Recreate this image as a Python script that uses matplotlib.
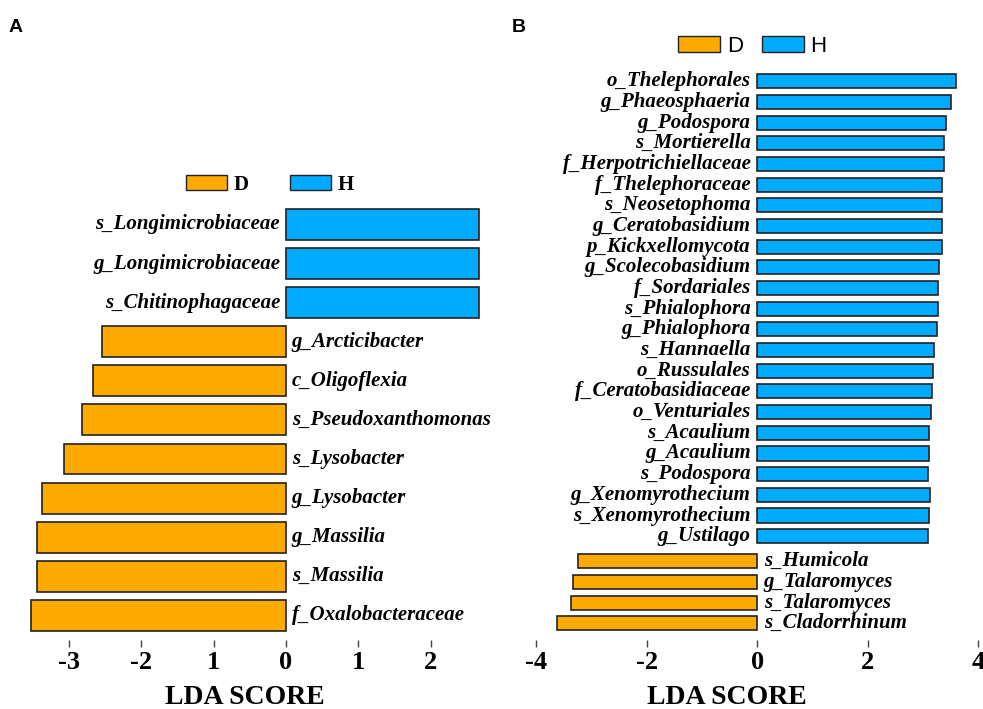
import numpy as np
import matplotlib
matplotlib.use("Agg")
from matplotlib import pyplot as plt
from matplotlib.patches import Patch

# panel A data (top to bottom)
a_taxa = ["s_Longimicrobiaceae", "g_Longimicrobiaceae", "s_Chitinophagaceae",
          "g_Arcticibacter", "c_Oligoflexia", "s_Pseudoxanthomonas",
          "s_Lysobacter", "g_Lysobacter", "g_Massilia", "s_Massilia",
          "f_Oxalobacteraceae"]
a_lda = [2.67, 2.67, 2.67, -2.54, -2.67, -2.82, -3.07, -3.37, -3.45, -3.45, -3.52]
a_ticks = [-3, -2, -1, 0, 1, 2]
a_ticklabels = ["-3", "-2", "1", "0", "1", "2"]

# panel B data (top to bottom)
b_taxa = ["o_Thelephorales", "g_Phaeosphaeria", "g_Podospora", "s_Mortierella",
          "f_Herpotrichiellaceae", "f_Thelephoraceae", "s_Neosetophoma",
          "g_Ceratobasidium", "p_Kickxellomycota", "g_Scolecobasidium",
          "f_Sordariales", "s_Phialophora", "g_Phialophora", "s_Hannaella",
          "o_Russulales", "f_Ceratobasidiaceae", "o_Venturiales", "s_Acaulium",
          "g_Acaulium", "s_Podospora", "g_Xenomyrothecium", "s_Xenomyrothecium",
          "g_Ustilago", "s_Humicola", "g_Talaromyces", "s_Talaromyces",
          "s_Cladorrhinum"]
b_lda = [3.61, 3.51, 3.42, 3.39, 3.38, 3.35, 3.34, 3.34, 3.34, 3.30, 3.28, 3.27,
         3.26, 3.21, 3.18, 3.17, 3.15, 3.12, 3.12, 3.10, 3.13, 3.12, 3.10,
         -3.25, -3.33, -3.38, -3.63]
b_ticks = [-4, -2, 0, 2, 4]
b_ticklabels = ["-4", "-2", "0", "2", "4"]

col_d = "#FFAA00"
col_h = "#00AAFF"
serif = "Liberation Serif"
sans = "Liberation Sans"

fig = plt.figure(figsize=(9.83, 7.09), dpi=100)

W, H = 983.0, 709.0


def style_axis(ax, ticks, labels):
    for s in ["top", "right", "left", "bottom"]:
        ax.spines[s].set_visible(False)
    ax.set_yticks([])
    ax.set_xticks(ticks)
    ax.set_xticklabels(labels, fontfamily=serif, fontweight="bold", fontsize=19)
    ax.tick_params(axis="x", direction="out", length=5, width=1, color="#444444", pad=3)


# ---------- panel A ----------
axA = fig.add_axes([25.7 / W, (H - 640) / H, 470 / W, 439 / H])
ya = np.arange(len(a_taxa))
colors_a = [col_h if v > 0 else col_d for v in a_lda]
axA.barh(ya, a_lda, height=0.79, color=colors_a, edgecolor="#222222", linewidth=1.2)
for y, v, t in zip(ya, a_lda, a_taxa):
    if v > 0:
        axA.text(-0.08, y, t, ha="right", va="center", fontfamily=serif,
                 fontweight="bold", fontstyle="italic", fontsize=15)
    else:
        axA.text(0.08, y, t, ha="left", va="center", fontfamily=serif,
                 fontweight="bold", fontstyle="italic", fontsize=15)
axA.set_xlim(-3.6, 2.9)
axA.set_ylim(10.63, -0.6)
style_axis(axA, a_ticks, a_ticklabels)
axA.set_xlabel("LDA SCORE", fontfamily=serif, fontweight="bold", fontsize=20, labelpad=7.5)
axA.xaxis.label.set_x((245 - 25.7) / 470)
axA.legend(handles=[Patch(facecolor=col_d, edgecolor="#222222", label="D"),
                    Patch(facecolor=col_h, edgecolor="#222222", label="H")],
           loc="center left", bbox_to_anchor=(176 / W, (H - 184.5) / H),
           bbox_transform=fig.transFigure, ncol=2, frameon=False, borderpad=0,
           handlelength=1.97, handleheight=0.72, handletextpad=0.3,
           columnspacing=2.0, prop={"family": serif, "weight": "bold", "size": 15})

# ---------- panel B ----------
axB = fig.add_axes([533.6 / W, (H - 640) / H, 447.1 / W, 573.2 / H])
n_pos = sum(1 for v in b_lda if v > 0)
yb = np.array([i if i < n_pos else i + 0.21 for i in range(len(b_taxa))])
colors_b = [col_h if v > 0 else col_d for v in b_lda]
axB.barh(yb, b_lda, height=0.68, color=colors_b, edgecolor="#222222", linewidth=1.2)
for y, v, t in zip(yb, b_lda, b_taxa):
    if v > 0:
        axB.text(-0.12, y, t, ha="right", va="center", fontfamily=serif,
                 fontweight="bold", fontstyle="italic", fontsize=15)
    else:
        axB.text(0.12, y, t, ha="left", va="center", fontfamily=serif,
                 fontweight="bold", fontstyle="italic", fontsize=15)
axB.set_xlim(-4.05, 4.05)
axB.set_ylim(27.02, -0.7)
style_axis(axB, b_ticks, b_ticklabels)
axB.set_xlabel("LDA SCORE", fontfamily=serif, fontweight="bold", fontsize=20, labelpad=7.5)
axB.xaxis.label.set_x((757 - 30 - 533.6) / 447.1)
axB.legend(handles=[Patch(facecolor=col_d, edgecolor="#222222", label="D"),
                    Patch(facecolor=col_h, edgecolor="#222222", label="H")],
           loc="center left", bbox_to_anchor=(666.7 / W, (H - 46) / H),
           bbox_transform=fig.transFigure, ncol=2, frameon=False, borderpad=0,
           handlelength=1.9, handleheight=0.7, handletextpad=0.3,
           columnspacing=0.85, prop={"family": sans, "size": 16})

# panel letters
fig.text(9 / W, (H - 32) / H, "A", fontfamily=sans, fontweight="bold", fontsize=14)
fig.text(512 / W, (H - 32) / H, "B", fontfamily=sans, fontweight="bold", fontsize=14)

fig.savefig("out.png", dpi=100)
